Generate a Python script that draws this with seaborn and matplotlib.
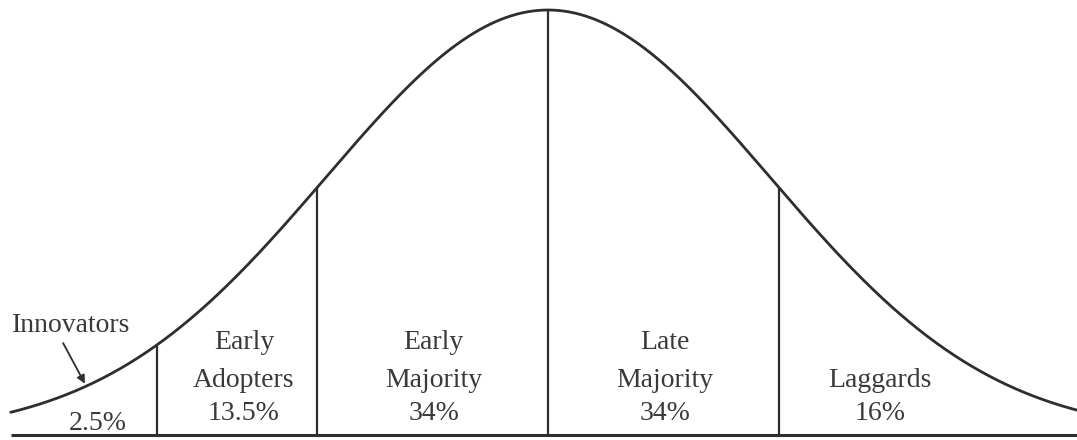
import numpy as np
import pandas as pd
import matplotlib
matplotlib.use("Agg")
import matplotlib.pyplot as plt
import seaborn as sns

# adopter categories (boundaries in standard deviations from the mean)
categories = ["Innovators", "Early\nAdopters", "Early\nMajority", "Late\nMajority", "Laggards"]
shares = ["2.5%", "13.5%", "34%", "34%", "16%"]
boundaries = [-1.76, -1.04, 0.0, 1.04]
x_start, x_end = -2.42, 2.39

sns.set_style("white")
plt.rcParams["font.family"] = ["Liberation Serif", "DejaVu Serif"]

ink = "#2e2e2e"
txt = "#3a3a3a"


def pdf(v):
    v = np.asarray(v, dtype=float)
    return np.exp(-0.5 * v ** 2) / np.sqrt(2 * np.pi)


xs = np.linspace(x_start, x_end, 600)
curve = pd.DataFrame({"x": xs, "density": pdf(xs)})

fig = plt.figure(figsize=(10.77, 4.4), dpi=100)
ax = fig.add_axes([0, 0, 1, 1])

sns.lineplot(data=curve, x="x", y="density", color=ink, lw=2.0, ax=ax)
ax.hlines(0, x_start, x_end, color=ink, lw=2.2)
ax.vlines(boundaries, 0, pdf(boundaries), color=ink, lw=1.6)

# scale: 222 px per sd, mean at 548 px, peak 425 px above the baseline
peak = pdf(0)
ax.set_xlim(-548 / 222, 529 / 222)
ax.set_ylim(-5 / 425 * peak, 435 / 425 * peak)
ax.set_axis_off()

# label centres (x in sd units)
label_x = [-2.15, -1.37, -0.515, 0.525, 1.495]
label_y = peak * np.array([0.217, 0.129, 0.051])  # rows: name top, name bottom, share

fs = 20
for i in range(1, 5):
    name = categories[i]
    if "\n" in name:
        top, bottom = name.split("\n")
        ax.text(label_x[i], label_y[0], top, ha="center", va="center", fontsize=fs, color=txt)
        ax.text(label_x[i], label_y[1], bottom, ha="center", va="center", fontsize=fs, color=txt)
    else:
        ax.text(label_x[i], label_y[1], name, ha="center", va="center", fontsize=fs, color=txt)
    ax.text(label_x[i], label_y[2], shares[i], ha="center", va="center", fontsize=fs, color=txt)

# innovators: label with an arrow to the tail
ax.text(label_x[0], peak * 0.257, categories[0], ha="center", va="center", fontsize=fs, color=txt)
ax.text(-2.03, peak * 0.028, shares[0], ha="center", va="center", fontsize=fs, color=txt)
ax.annotate("", xy=(-2.08, pdf(-2.08)), xytext=(-2.19, peak * 0.222),
            arrowprops=dict(arrowstyle="-|>", color=ink, lw=1.3, mutation_scale=12))

fig.savefig("out.png", dpi=100)
